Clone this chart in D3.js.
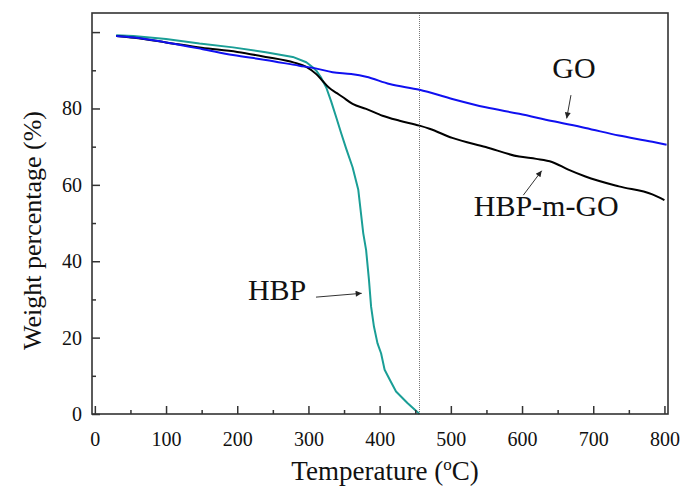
<!DOCTYPE html>
<html><head><meta charset="utf-8"><script src="https://cdn.jsdelivr.net/npm/d3@7"></script></head>
<body style="margin:0">
<svg id="chart" width="681" height="486"></svg>
<script>
// ---- Data ----
const goT = [30, 55, 100, 150, 194, 240, 287, 310, 334, 360, 381, 414, 456, 502, 549, 596, 642, 689, 736, 783, 803];
const goW = [99.0, 98.6, 97.3, 95.6, 94.0, 92.7, 91.2, 90.5, 89.5, 89.0, 88.3, 86.4, 84.9, 82.5, 80.3, 78.6, 76.7, 74.9, 72.9, 71.3, 70.5];

const hbpmgoT = [30, 55, 100, 150, 200, 240, 280, 297, 311, 320, 329, 340, 348, 362, 381, 404, 428, 456, 470, 502, 549, 596, 620, 642, 665, 689, 736, 783, 800];
const hbpmgoW = [99.0, 98.5, 97.3, 95.9, 94.8, 93.5, 92.0, 90.9, 89.0, 87.2, 85.4, 84.0, 83.0, 81.2, 79.9, 78.1, 76.8, 75.5, 74.7, 72.3, 69.9, 67.4, 66.8, 66.0, 64.0, 62.2, 59.6, 57.5, 56.0];

const hbpT = [30, 54, 100, 147, 194, 240, 278, 297, 306, 311, 318, 325, 332, 339, 346, 353, 362, 370, 377, 381, 385, 388, 392, 397, 402, 407, 415, 423, 439, 456];
const hbpW = [99.2, 99.0, 98.2, 97.0, 96.0, 94.7, 93.5, 92.1, 90.8, 89.9, 88.0, 85.5, 81.8, 77.7, 73.5, 69.5, 64.6, 58.7, 47.3, 42.9, 35.1, 28.1, 22.9, 18.5, 15.9, 11.6, 8.7, 5.9, 2.9, 0];

const xTicks = [0, 100, 200, 300, 400, 500, 600, 700, 800];
const xMinorTicks = [50, 150, 250, 350, 450, 550, 650, 750];
const yTicks = [0, 20, 40, 60, 80, 100];
const yTickLabels = ["0", "20", "40", "60", "80", ""];
const yMinorTicks = [10, 30, 50, 70, 90];
const markerT = 456;

const seriesNames = ["GO", "HBP-m-GO", "HBP"];
const seriesColors = ["#1010f0", "#000000", "#1a9e96"];

// annotations in data units: label position and arrow from/to
const labelT = [673, 634, 256];
const labelW = [88.1, 51.8, 29.8];
const arrowFromT = [668.7, 601.8, 310.6];
const arrowFromW = [83.5, 57.3, 30.6];
const arrowToT = [662.7, 627.6, 374.8];
const arrowToW = [77.4, 63.7, 31.6];

// ---- Layout ----
const svg = d3.select("#chart");
const pL = 92, pR = 668, pT = 13, pB = 414;
const x = d3.scaleLinear().domain([-4, 805]).range([pL, pR]);
const y = d3.scaleLinear().domain([0, 105]).range([pB, pT]);

function serif(sel, size) {
  return sel.style("font-family", `"Liberation Serif"`).attr("font-size", size).attr("fill", "#111");
}

svg.append("defs").append("marker")
  .attr("id", "arrow").attr("viewBox", "0 0 10 10")
  .attr("refX", 10).attr("refY", 5)
  .attr("markerWidth", 12).attr("markerHeight", 6)
  .attr("markerUnits", "userSpaceOnUse")
  .attr("orient", "auto")
  .append("path").attr("d", "M0,0 L10,5 L0,10 z").attr("fill", "#222");

// dotted vertical marker
svg.append("line")
  .attr("x1", x(markerT)).attr("x2", x(markerT))
  .attr("y1", pT).attr("y2", pB)
  .attr("stroke", "#777").attr("stroke-width", 1)
  .attr("stroke-dasharray", "1,1");

// series lines
const series = [
  {T: hbpT, W: hbpW, c: seriesColors[2]},
  {T: hbpmgoT, W: hbpmgoW, c: seriesColors[1]},
  {T: goT, W: goW, c: seriesColors[0]}
];
const line = d3.line().x(d => x(d[0])).y(d => y(d[1])).curve(d3.curveMonotoneX);
const lineLinear = d3.line().x(d => x(d[0])).y(d => y(d[1]));
series.forEach((s, i) => {
  const pts = s.T.map((t, k) => [t, s.W[k]]);
  svg.append("path")
    .attr("d", (i === 0 ? lineLinear : line)(pts))
    .attr("fill", "none")
    .attr("stroke", s.c)
    .attr("stroke-width", 2)
    .attr("stroke-linejoin", "round");
});

// frame
svg.append("rect")
  .attr("x", pL).attr("y", pT)
  .attr("width", pR - pL).attr("height", pB - pT)
  .attr("fill", "none").attr("stroke", "#333").attr("stroke-width", 1.6);

// x axis (ticks inward)
const gx = svg.append("g").attr("transform", `translate(0,${pB})`)
  .call(d3.axisBottom(x).tickValues(xTicks).tickSize(-8).tickPadding(18).tickFormat(d3.format("d")));
gx.select(".domain").remove();
gx.selectAll(".tick line").attr("stroke", "#333").attr("stroke-width", 1.5);
serif(gx.selectAll(".tick text"), 20);
const gxm = svg.append("g").attr("transform", `translate(0,${pB})`)
  .call(d3.axisBottom(x).tickValues(xMinorTicks).tickSize(-4).tickFormat(""));
gxm.select(".domain").remove();
gxm.selectAll(".tick line").attr("stroke", "#333").attr("stroke-width", 1.5);

// y axis
const gy = svg.append("g").attr("transform", `translate(${pL},0)`)
  .call(d3.axisLeft(y).tickValues(yTicks).tickSize(-8).tickPadding(10).tickFormat((d, i) => yTickLabels[i]));
gy.select(".domain").remove();
gy.selectAll(".tick line").attr("stroke", "#333").attr("stroke-width", 1.5);
serif(gy.selectAll(".tick text"), 20);
const gym = svg.append("g").attr("transform", `translate(${pL},0)`)
  .call(d3.axisLeft(y).tickValues(yMinorTicks).tickSize(-4).tickFormat(""));
gym.select(".domain").remove();
gym.selectAll(".tick line").attr("stroke", "#333").attr("stroke-width", 1.5);

// axis titles
const xt = serif(svg.append("text"), 27)
  .attr("x", (pL + pR) / 2 + 5).attr("y", 480)
  .attr("text-anchor", "middle");
xt.append("tspan").text("Temperature (");
xt.append("tspan").text("o").attr("font-size", 17).attr("dy", -10);
xt.append("tspan").text("C)").attr("dy", 10);

serif(svg.append("text"), 26)
  .attr("transform", `translate(41,${(pT + pB) / 2 + 17}) rotate(-90)`)
  .attr("text-anchor", "middle")
  .text("Weight percentage (%)");

// annotations
seriesNames.forEach((name, i) => {
  serif(svg.append("text"), 30)
    .attr("x", x(labelT[i])).attr("y", y(labelW[i]))
    .attr("text-anchor", "middle")
    .text(name);
  svg.append("line")
    .attr("x1", x(arrowFromT[i])).attr("y1", y(arrowFromW[i]))
    .attr("x2", x(arrowToT[i])).attr("y2", y(arrowToW[i]))
    .attr("stroke", "#333").attr("stroke-width", 1)
    .attr("marker-end", "url(#arrow)");
});
</script>
</body></html>
